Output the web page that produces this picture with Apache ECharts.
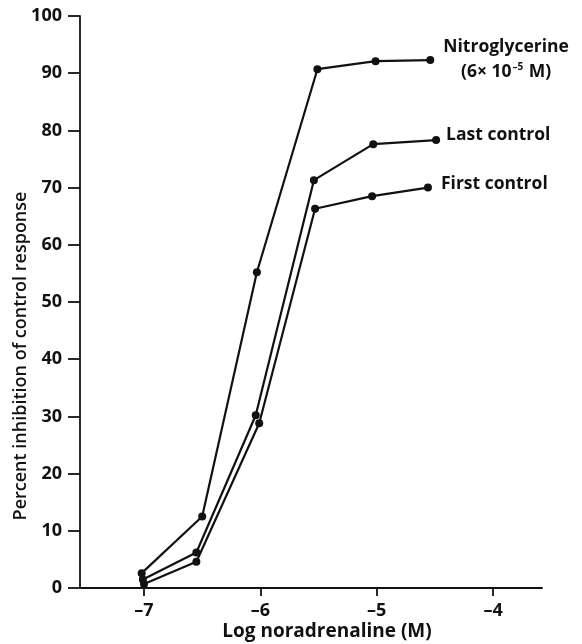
<!DOCTYPE html>
<html>
<head>
<meta charset="utf-8">
<script src="https://cdn.jsdelivr.net/npm/echarts@6/dist/echarts.min.js"></script>
<style>
  html, body { margin: 0; padding: 0; background: #fff; }
  #chart { width: 582px; height: 644px; }
</style>
</head>
<body>
<div id="chart"></div>
<script>
// log noradrenaline (M) for each curve
const nitroX = [-7.02, -6.5, -6.03, -5.51, -5.01, -4.54];
const lastX = [-7.01, -6.55, -6.04, -5.54, -5.03, -4.49];
const firstX = [-7.0, -6.55, -6.01, -5.53, -5.04, -4.56];

// percent inhibition of control response
const nitroY = [2.6, 12.5, 55.2, 90.7, 92.1, 92.3];
const lastY = [1.5, 6.2, 30.2, 71.3, 77.6, 78.3];
const firstY = [0.7, 4.6, 28.8, 66.3, 68.5, 70.0];

const xTicks = [-7, -6, -5, -4];

const font = 'Open Sans';
const ink = '#111';

function pairs(xs, ys) {
  return xs.map((x, i) => [x, ys[i]]);
}

function curve(name, xs, ys, label) {
  return {
    name: name,
    type: 'line',
    data: pairs(xs, ys),
    symbol: 'circle',
    symbolSize: 8,
    itemStyle: { color: ink },
    lineStyle: { color: ink, width: 2.2 },
    endLabel: Object.assign({
      show: true,
      color: ink,
      fontFamily: font,
      fontWeight: 'bold',
      fontSize: 17.5
    }, label)
  };
}

const chart = echarts.init(document.getElementById('chart'));
chart.setOption({
  animation: false,
  grid: { left: 80, right: 40, top: 16, bottom: 56 },
  xAxis: {
    type: 'value',
    min: -7.55,
    max: -3.58,
    splitLine: { show: false },
    axisLine: { onZero: false, lineStyle: { color: ink, width: 1.8 } },
    axisTick: { customValues: xTicks, length: 8, lineStyle: { color: ink, width: 1.8 } },
    axisLabel: {
      customValues: xTicks,
      margin: 14,
      color: ink,
      fontFamily: font,
      fontWeight: 'bold',
      fontSize: 18,
      formatter: v => String(v).replace('-', '\u2013')
    }
  },
  yAxis: {
    type: 'value',
    min: 0,
    max: 100,
    interval: 10,
    splitLine: { show: false },
    axisLine: { show: true, lineStyle: { color: ink, width: 1.8 } },
    axisTick: { show: true, length: 12, lineStyle: { color: ink, width: 1.8 } },
    axisLabel: {
      margin: 18,
      color: ink,
      fontFamily: font,
      fontWeight: 'bold',
      fontSize: 18
    }
  },
  graphic: [
    {
      type: 'text',
      x: 21,
      y: 356,
      rotation: Math.PI / 2,
      style: {
        text: 'Percent inhibition of control response',
        font: '600 18px "Open Sans"',
        fill: ink,
        align: 'center',
        verticalAlign: 'middle'
      }
    },
    {
      type: 'text',
      x: 327,
      y: 632,
      style: {
        text: 'Log noradrenaline (M)',
        font: 'bold 19px "Open Sans"',
        fill: ink,
        align: 'center',
        verticalAlign: 'middle'
      }
    }
  ],
  series: [
    curve('Nitroglycerine', nitroX, nitroY, {
      distance: 13,
      offset: [0, -1],
      formatter: '{a|Nitroglycerine}\n{b|(6\u00d7 10}{s|\u20135}{b| M)}',
      rich: {
        a: { fontFamily: font, fontWeight: 'bold', fontSize: 17.5, color: ink, lineHeight: 25 },
        b: { fontFamily: font, fontWeight: 'bold', fontSize: 17.5, color: ink, lineHeight: 25, align: 'center' },
        s: { fontFamily: font, fontWeight: 'bold', fontSize: 10, color: ink, align: 'center', padding: [0, 1, 8, 1] }
      }
    }),
    curve('Last control', lastX, lastY, {
      distance: 10,
      offset: [0, -5],
      formatter: 'Last control'
    }),
    curve('First control', firstX, firstY, {
      distance: 13,
      offset: [0, -4],
      formatter: 'First control'
    })
  ]
});
</script>
</body>
</html>
